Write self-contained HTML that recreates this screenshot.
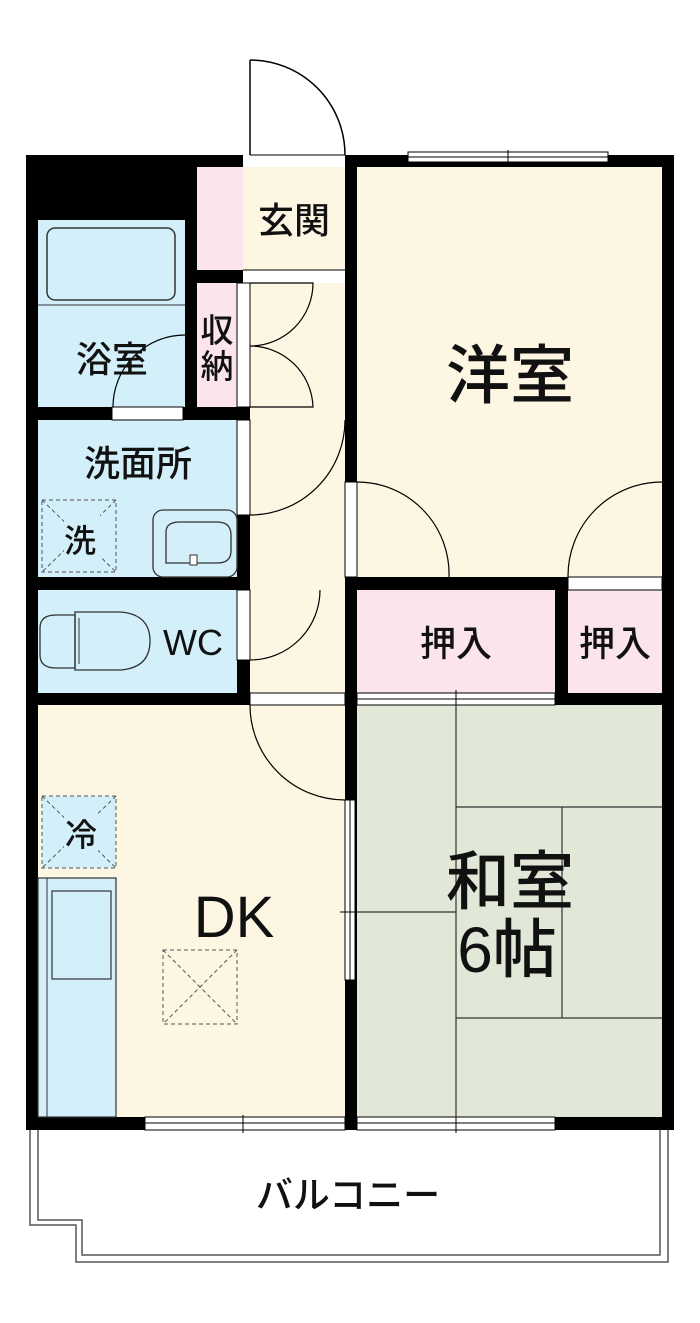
<!DOCTYPE html>
<html><head><meta charset="utf-8"><style>
html,body{margin:0;padding:0;background:#fff}
svg{display:block}
text{font-family:"Liberation Sans","Noto Sans CJK JP",sans-serif;fill:#111;text-anchor:middle;font-weight:500}
</style></head><body>
<svg width="700" height="1323" viewBox="0 0 700 1323" xmlns="http://www.w3.org/2000/svg">
<!-- balcony -->
<path d="M30 1130 V1225 H76 V1262 H668 V1130" fill="none" stroke="#555" stroke-width="1.5"/>
<path d="M38 1130 V1220 H82 V1255 H660 V1130" fill="none" stroke="#555" stroke-width="1.5"/>
<text x="348" y="1208" font-size="37">バルコニー</text>

<rect x="26" y="155" width="648" height="975" fill="#000"/>
<rect x="38" y="220" width="147" height="187" fill="#d3effa"/>
<rect x="197" y="167" width="46" height="103" fill="#fbe4ee"/>
<rect x="243" y="167" width="102" height="103" fill="#fdf6e3"/>
<rect x="197" y="283" width="40" height="124" fill="#fbe4ee"/>
<rect x="250" y="283" width="95" height="422" fill="#fdf6e3"/>
<rect x="38" y="420" width="199" height="157" fill="#d3effa"/>
<rect x="38" y="590" width="199" height="103" fill="#d3effa"/>
<rect x="38" y="705" width="307" height="412" fill="#fdf6e3"/>
<rect x="357" y="167" width="305" height="410" fill="#fdf6e3"/>
<rect x="357" y="590" width="198" height="103" fill="#fbe4ee"/>
<rect x="568" y="590" width="94" height="103" fill="#fbe4ee"/>
<rect x="357" y="705" width="305" height="412" fill="#e2e8d8"/>

<rect x="243" y="155" width="102" height="12" fill="#fff"/>
<line x1="250" y1="155" x2="345" y2="155" stroke="#000" stroke-width="1"/>
<line x1="250" y1="60" x2="250" y2="155" stroke="#000" stroke-width="1.5"/>
<path d="M250 60 A95 95 0 0 1 345 155" fill="none" stroke="#000" stroke-width="1.5"/>
<rect x="408" y="152" width="200" height="10" fill="#fff" stroke="#000" stroke-width="1"/>
<line x1="408" y1="157" x2="608" y2="157" stroke="#000" stroke-width="1"/>
<line x1="508" y1="150" x2="508" y2="164" stroke="#000"/>

<rect x="47" y="228" width="128" height="72" rx="8" fill="none" stroke="#333" stroke-width="1.5"/>
<line x1="38" y1="305" x2="185" y2="305" stroke="#333" stroke-width="1"/>
<rect x="112" y="407" width="71" height="13" fill="#fff" stroke="#000" stroke-width="1"/>
<path d="M113 407 A72 72 0 0 1 185 335" fill="none" stroke="#000" stroke-width="1.2"/>
<rect x="243" y="270" width="102" height="13" fill="#fff"/>
<line x1="243" y1="270" x2="345" y2="270" stroke="#000"/>
<rect x="237" y="283" width="13" height="124" fill="#fff" stroke="#000" stroke-width="1"/>
<path d="M250 283 H313 A63 63 0 0 1 250 346 A63 63 0 0 1 313 407 H250" fill="none" stroke="#000" stroke-width="1.2"/>
<rect x="237" y="420" width="13" height="95" fill="#fff" stroke="#000" stroke-width="1"/>
<path d="M250 515 A95 95 0 0 0 345 420" fill="none" stroke="#000" stroke-width="1.2"/>
<rect x="237" y="590" width="13" height="70" fill="#fff" stroke="#000" stroke-width="1"/>
<path d="M250 660 A70 70 0 0 0 320 590" fill="none" stroke="#000" stroke-width="1.2"/>
<rect x="250" y="693" width="95" height="12" fill="#fff" stroke="#000" stroke-width="1"/>
<path d="M250 705 A95 95 0 0 0 345 800" fill="none" stroke="#000" stroke-width="1.2"/>
<rect x="345" y="482" width="12" height="95" fill="#fff" stroke="#000" stroke-width="1"/>
<path d="M357 482 A92 92 0 0 1 449 577" fill="none" stroke="#000" stroke-width="1.2"/>
<rect x="568" y="577" width="94" height="13" fill="#fff" stroke="#000" stroke-width="1"/>
<path d="M662 482 A94 94 0 0 0 568 577" fill="none" stroke="#000" stroke-width="1.2"/>
<rect x="357" y="693" width="198" height="12" fill="#fff" stroke="#000" stroke-width="1"/>
<line x1="357" y1="699" x2="555" y2="699" stroke="#000"/>
<line x1="456" y1="690" x2="456" y2="708" stroke="#000"/>
<rect x="345" y="800" width="10" height="180" fill="#fff" stroke="#000" stroke-width="1"/>
<line x1="350" y1="800" x2="350" y2="980" stroke="#000"/>
<line x1="340" y1="912" x2="357" y2="912" stroke="#000"/>
<rect x="145" y="1117" width="200" height="13" fill="#fff" stroke="#000" stroke-width="1"/>
<line x1="145" y1="1123" x2="345" y2="1123" stroke="#000"/>
<line x1="243" y1="1115" x2="243" y2="1133" stroke="#000"/>
<rect x="357" y="1117" width="198" height="13" fill="#fff" stroke="#000" stroke-width="1"/>
<line x1="357" y1="1123" x2="555" y2="1123" stroke="#000"/>
<line x1="456" y1="1115" x2="456" y2="1133" stroke="#000"/>

<g stroke="#333" stroke-width="1.2" fill="none">
<line x1="456" y1="705" x2="456" y2="1117"/>
<line x1="357" y1="912" x2="456" y2="912"/>
<line x1="456" y1="807" x2="662" y2="807"/>
<line x1="456" y1="1018" x2="662" y2="1018"/>
<line x1="562" y1="807" x2="562" y2="1018"/>
</g>

<g stroke="#555" stroke-width="1" fill="none" stroke-dasharray="4 3">
<rect x="42" y="500" width="74" height="72"/>
<line x1="42" y1="500" x2="116" y2="572"/><line x1="116" y1="500" x2="42" y2="572"/>
</g>
<rect x="64" y="515" width="36" height="44" fill="#d3effa"/>
<text x="80" y="552" font-size="32">洗</text>
<rect x="153" y="510" width="84" height="67" rx="10" fill="none" stroke="#333" stroke-width="1.3"/>
<path d="M166 563 V532 Q166 522 180 522 H217 Q231 522 231 535 V551 Q231 563 217 563 Z" fill="none" stroke="#333" stroke-width="1.3"/>
<rect x="190" y="555" width="7" height="10" fill="#fff" stroke="#333"/>
<path d="M56 615 H75 V668 H56 Q40 668 40 655 V628 Q40 615 56 615 Z" fill="none" stroke="#333" stroke-width="1.3"/>
<path d="M75 612 H120 Q150 614 150 641 Q150 668 120 670 H75 Z" fill="none" stroke="#333" stroke-width="1.3"/>
<line x1="79" y1="618" x2="79" y2="664" stroke="#333"/>

<rect x="42" y="796" width="74" height="72" fill="#d3effa"/>
<g stroke="#555" stroke-width="1" fill="none" stroke-dasharray="4 3">
<rect x="42" y="796" width="74" height="72"/>
<line x1="42" y1="796" x2="116" y2="868"/><line x1="116" y1="796" x2="42" y2="868"/>
</g>
<rect x="64" y="810" width="34" height="44" fill="#d3effa"/>
<text x="81" y="846" font-size="32">冷</text>
<rect x="38" y="878" width="78" height="239" fill="#d3effa" stroke="#333" stroke-width="1.2"/>
<line x1="47" y1="878" x2="47" y2="1117" stroke="#333"/>
<rect x="52" y="891" width="59" height="88" fill="none" stroke="#333" stroke-width="1.2"/>
<g stroke="#555" stroke-width="1" fill="none" stroke-dasharray="4 3">
<rect x="163" y="950" width="74" height="74"/>
<line x1="163" y1="950" x2="237" y2="1024"/><line x1="237" y1="950" x2="163" y2="1024"/>
</g>

<text x="294" y="233" font-size="36">玄関</text>
<text x="217" y="342" font-size="33">収</text>
<text x="217" y="378" font-size="33">納</text>
<text x="112" y="372" font-size="36">浴室</text>
<text x="138" y="476" font-size="36">洗面所</text>
<text x="193" y="655" font-size="36">WC</text>
<text x="510" y="398" font-size="64">洋室</text>
<text x="456" y="656" font-size="36">押入</text>
<text x="615" y="656" font-size="36">押入</text>
<text x="234" y="937" font-size="58">DK</text>
<text x="510" y="904" font-size="64">和室</text>
<text x="507" y="972" font-size="64">6帖</text>
</svg>
</body></html>
